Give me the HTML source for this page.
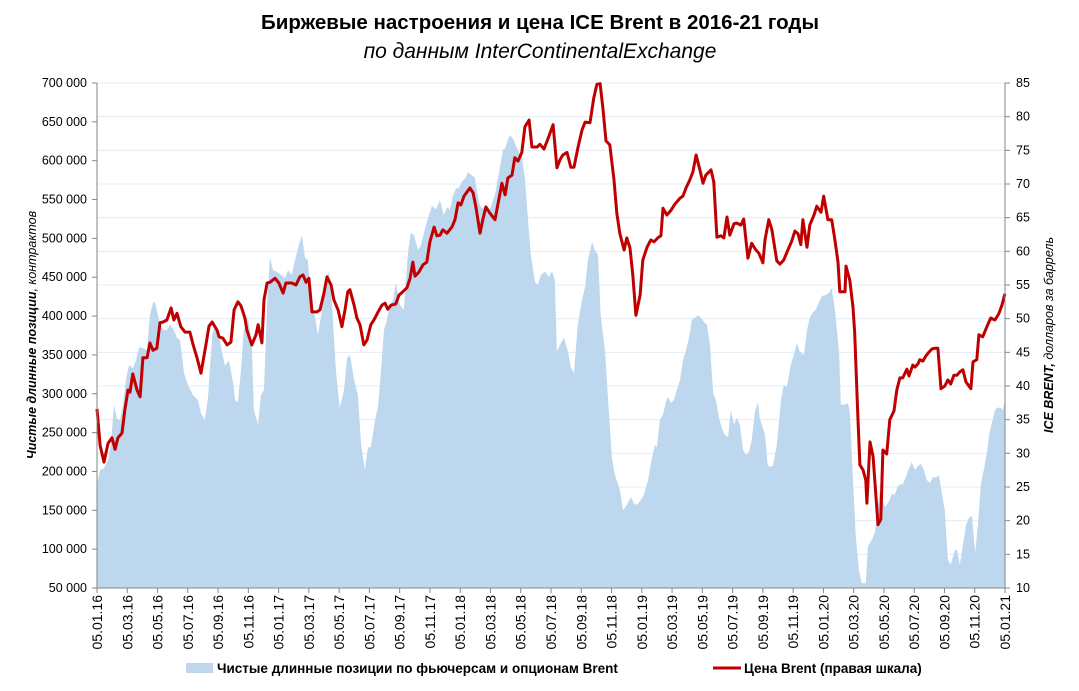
<!DOCTYPE html>
<html><head><meta charset="utf-8">
<style>
body{margin:0;background:#fff;}
svg{display:block;font-family:"Liberation Sans","DejaVu Sans",sans-serif;}
</style></head>
<body>
<svg id="chart" width="1079" height="691" viewBox="0 0 1079 691">
<text x="540" y="29" text-anchor="middle" font-size="20.5" font-weight="bold">Биржевые настроения и цена ICE Brent в 2016-21 годы</text>
<text x="540" y="58" text-anchor="middle" font-size="21" font-style="italic">по данным InterContinentalExchange</text>
<g id="grid"></g>
<g id="area"></g>
<g id="line"></g>
<g id="axes"></g>
<text transform="translate(36,335) rotate(-90)" text-anchor="middle" font-size="12.5" font-style="italic" font-weight="bold">Чистые длинные позиции<tspan font-weight="normal">, контрактов</tspan></text>
<text transform="translate(1053,335) rotate(-90)" text-anchor="middle" font-size="12.5" font-style="italic" font-weight="bold">ICE BRENT,<tspan font-weight="normal"> долларов за баррель</tspan></text>
<g>
<rect x="186" y="663" width="27" height="10" fill="#bdd7ee"/>
<text x="217" y="673" font-size="13.5" font-weight="bold">Чистые длинные позиции по фьючерсам и опционам Brent</text>
<line x1="713" y1="668" x2="741" y2="668" stroke="#c00000" stroke-width="3"/>
<text x="744" y="673" font-size="13.5" font-weight="bold">Цена Brent (правая шкала)</text>
</g>
</svg>
<script>
const xLabels=["05.01.16","05.03.16","05.05.16","05.07.16","05.09.16","05.11.16","05.01.17","05.03.17","05.05.17","05.07.17","05.09.17","05.11.17","05.01.18","05.03.18","05.05.18","05.07.18","05.09.18","05.11.18","05.01.19","05.03.19","05.05.19","05.07.19","05.09.19","05.11.19","05.01.20","05.03.20","05.05.20","05.07.20","05.09.20","05.11.20","05.01.21"];
const leftTicks=[50000,100000,150000,200000,250000,300000,350000,400000,450000,500000,550000,600000,650000,700000];
const rightTicks=[10,15,20,25,30,35,40,45,50,55,60,65,70,75,80,85];
const posWeeks=[0,0.9,2.0,3.2,4.0,4.9,5.7,6.6,7.5,8.3,9.2,10.3,11.2,12.1,12.9,14.4,15.2,16.1,16.7,18.1,19.0,20.1,21.0,22.1,23.0,23.9,25.0,26.2,27.6,29.0,29.9,31.0,31.9,33.1,33.9,34.8,35.9,36.8,37.9,39.1,39.7,40.5,41.4,42.2,43.4,44.5,45.1,46.3,47.1,48.0,48.9,49.7,50.6,51.7,52.9,54.0,54.9,56.0,56.9,57.8,58.9,59.8,60.6,61.5,62.7,63.5,64.7,65.5,66.7,67.5,68.7,69.8,71.0,71.9,72.7,73.9,75.0,75.9,77.0,77.9,78.7,79.9,80.8,81.6,82.5,83.3,84.2,85.1,85.9,87.1,88.2,89.4,90.2,91.1,92.3,93.1,94.3,95.4,96.3,97.4,98.6,99.7,100.6,101.5,102.3,103.2,104.0,104.9,106.1,106.6,107.8,108.6,109.8,110.6,111.8,112.9,114.4,115.8,116.7,117.3,118.1,118.7,119.6,120.4,121.3,122.1,123.0,123.9,124.7,125.9,126.7,127.6,128.8,129.9,130.8,131.6,132.2,133.1,134.2,135.4,136.2,137.1,138.2,139.4,140.3,141.1,142.3,143.1,144.0,144.8,146.0,146.9,148.0,148.9,150.3,151.2,152.3,153.5,154.3,155.2,156.3,157.2,158.4,159.5,160.4,160.9,161.8,162.7,163.5,164.1,165.0,165.8,166.7,167.6,168.4,169.3,170.2,171.0,171.9,172.7,173.6,174.5,175.3,176.2,177.1,177.9,178.8,179.6,180.5,181.4,182.2,183.1,183.9,184.8,185.7,186.5,187.4,188.2,189.1,190.0,190.5,192.0,192.8,193.4,194.3,195.4,196.6,197.4,198.3,199.4,200.3,201.2,202.0,203.2,204.1,204.9,205.8,206.6,207.5,208.4,209.5,210.4,211.2,212.1,212.7,213.3,213.8,215.0,215.8,216.4,217.3,218.1,219.0,219.8,221.0,221.6,222.7,223.6,224.2,225.0,226.5,227.6,228.5,229.3,230.2,231.1,231.6,232.5,233.4,234.2,235.1,236.0,236.8,237.7,238.5,239.4,240.3,241.1,242.0,242.6,243.7,244.6,245.4,246.6,247.2,248.0,248.9,249.8,250.6,251.5,252.4,253.2,254.1,254.9,255.8,256.4,257.2,258.1,258.7,259.8,260.4,261.0];
const posValues=[183,202,204,215,234,286,268,266,286,318,337,333,343,360,359,356,401,417,418,389,382,382,389,382,372,369,327,311,298,292,275,266,295,376,389,382,354,336,343,315,292,289,331,382,398,363,279,260,298,305,414,475,459,457,453,449,459,453,472,488,504,475,472,421,398,376,408,445,457,421,328,282,305,346,350,318,298,234,202,231,231,266,284,328,382,395,414,421,443,414,408,482,507,504,485,491,513,530,542,537,549,530,540,537,555,564,565,573,579,585,581,578,546,539,540,537,556,591,614,616,627,633,628,619,611,605,578,524,479,444,440,453,457,450,458,446,354,363,372,354,334,327,389,421,437,472,495,485,479,401,356,292,217,195,176,150,157,167,159,157,163,170,189,217,234,231,266,273,289,296,288,292,305,318,343,356,373,395,398,401,398,392,389,363,301,292,269,256,247,244,279,260,269,260,228,221,225,240,277,289,269,247,208,206,207,234,292,311,309,337,350,365,354,350,382,398,405,408,418,426,427,430,436,408,382,354,286,286,288,277,189,116,73,56,56,103,112,121,144,176,154,161,171,170,181,184,183,193,204,212,202,207,210,202,189,185,193,192,195,179,150,86,80,99,99,80,105,131,140,143,95,131,185,202,224,247,262,279,282,282,279,292];
const brentWeeks=[0,0.9,2.0,3.2,4.3,5.2,6.0,7.2,8.0,8.9,9.5,10.3,11.5,12.4,13.2,14.4,15.2,16.1,17.2,18.1,19.0,20.1,21.3,22.1,23.0,24.1,25.3,26.7,27.6,28.7,29.9,31.3,32.2,33.1,34.5,35.1,36.2,37.4,38.5,39.4,40.5,41.4,42.5,43.1,44.5,45.7,46.3,47.4,48.0,48.9,49.7,51.2,52.3,53.5,54.3,56.0,57.2,58.3,59.2,60.1,60.9,61.8,63.2,64.1,65.2,66.1,67.3,68.1,69.3,70.4,71.3,72.1,72.7,73.9,74.7,75.6,76.7,77.6,78.7,79.6,80.8,81.9,82.8,83.6,84.5,85.9,86.8,87.9,89.1,90.0,90.8,91.4,92.5,93.7,94.8,95.7,96.9,97.7,98.6,99.4,100.6,102.0,102.9,103.8,104.6,105.5,106.6,107.2,108.1,108.9,110.1,110.9,111.8,112.9,114.4,115.2,116.4,117.3,118.1,119.3,120.1,121.0,122.1,123.0,124.2,125.0,126.5,127.3,128.5,129.6,131.1,132.2,133.1,133.9,135.1,136.2,137.1,138.2,139.4,140.3,141.7,142.8,143.7,144.6,145.4,146.3,147.4,148.6,149.4,150.3,151.5,152.3,153.2,154.0,154.9,156.1,156.9,158.1,159.2,160.1,161.2,162.1,162.7,163.8,165.0,166.1,167.6,168.4,169.3,170.4,171.3,172.2,173.3,174.2,175.0,176.5,177.3,178.2,179.3,180.2,181.1,181.9,183.1,183.9,185.1,185.9,187.1,188.2,189.4,190.3,191.4,192.0,193.1,194.0,195.4,196.3,197.4,198.6,199.7,200.6,201.5,202.3,202.9,204.1,204.9,206.1,206.9,208.1,208.9,210.1,211.2,212.1,213.0,213.5,215.0,215.3,216.4,217.3,217.8,218.7,219.3,220.2,221.0,221.3,222.2,223.1,224.5,225.3,225.9,227.0,227.9,229.1,229.9,230.8,231.6,232.8,233.4,234.5,235.1,236.0,236.5,237.4,238.3,239.1,240.0,240.8,241.7,242.6,243.7,244.6,245.4,246.3,247.2,248.0,248.9,249.8,251.2,251.8,252.9,253.5,254.6,255.8,256.9,258.1,259.2,260.1,261.0];
const brentValues=[36.6,31.2,28.7,31.5,32.3,30.6,32.3,33.0,36.4,39.4,39.1,41.8,39.4,38.4,44.2,44.2,46.4,45.3,45.6,49.4,49.5,49.8,51.6,49.8,50.8,48.8,48.0,48.0,46.2,44.3,41.9,46.1,48.9,49.5,48.3,47.3,47.1,46.1,46.5,51.3,52.5,51.9,50.1,48.3,46.1,47.6,49.1,46.4,52.8,55.3,55.4,56.0,55.3,53.8,55.3,55.3,55.0,56.2,56.5,55.4,56.0,51.0,51.0,51.3,53.7,56.2,55.0,52.8,51.3,48.8,51.3,54.0,54.3,52.0,50.1,49.1,46.1,46.8,49.1,49.8,51.0,52.0,52.3,51.4,52.0,52.2,53.5,54.0,54.6,56.0,58.4,56.3,56.9,58.0,58.4,61.4,63.6,62.3,62.4,63.2,62.7,63.6,64.7,67.2,66.9,68.2,69.0,69.4,68.7,66.6,62.7,64.7,66.6,65.7,64.7,66.9,70.1,68.4,70.9,71.3,73.9,73.4,74.7,78.5,79.5,75.5,75.5,75.9,75.2,76.7,78.8,72.4,73.6,74.3,74.7,72.5,72.5,75.3,78.0,79.2,79.1,82.8,84.8,84.9,81.4,76.4,75.8,70.6,65.7,62.6,60.2,62.0,60.5,56.5,50.5,53.5,58.7,60.6,61.7,61.4,62.0,62.3,66.4,65.4,66.1,67.0,67.9,68.2,69.4,70.6,71.8,74.3,72.1,70.1,71.3,72.1,70.3,62.1,62.3,62.0,65.1,62.4,64.1,64.2,63.9,64.8,59.0,61.2,60.2,59.7,58.3,61.7,64.7,63.2,58.6,58.1,58.7,60.2,61.5,63.0,62.6,61.0,64.7,60.6,63.9,65.4,66.7,65.8,68.2,64.7,64.7,61.7,58.4,54.0,54.0,57.8,55.7,51.7,47.9,35.7,28.3,27.5,26.0,22.6,31.7,29.5,19.4,20.2,30.5,29.9,35.0,36.3,39.4,41.2,41.2,42.5,41.5,43.1,42.8,43.3,43.9,43.7,44.5,45.0,45.5,45.6,45.6,39.6,40.0,40.9,40.3,41.6,41.6,42.1,42.4,40.6,39.6,43.6,43.9,47.6,47.3,48.8,50.1,49.8,50.7,52.0,53.7];

const NS="http://www.w3.org/2000/svg";
const X0=97,X1=1005,Y0=83,Y1=588,WEEKS=261;
function xw(w){return X0+w/WEEKS*(X1-X0);}
function yl(v){return Y1-(v-50000)/650000*(Y1-Y0);}
function yr(p){return Y1-(p-10)/75*(Y1-Y0);}
function mk(tag,attrs,parent){const e=document.createElementNS(NS,tag);for(const k in attrs)e.setAttribute(k,attrs[k]);parent.appendChild(e);return e;}
const grid=document.getElementById('grid'),axes=document.getElementById('axes');
rightTicks.forEach((t,i)=>{if(t===10)return;
 const g=mk('line',{x1:X0,x2:X1,y1:yr(t),y2:yr(t),stroke:'#e3ecf6','stroke-width':1},grid);
 
 });
let d='M'+xw(posWeeks[0])+','+Y1;
posWeeks.forEach((w,i)=>{d+=' L'+xw(w).toFixed(1)+','+yl(posValues[i]*1000).toFixed(1);});
d+=' L'+xw(posWeeks[posWeeks.length-1])+','+Y1+' Z';
const ap=mk('path',{d:d,fill:'#bdd7ee'},document.getElementById('area'));


let ld='';
brentWeeks.forEach((w,i)=>{ld+=(i?' L':'M')+xw(w).toFixed(1)+','+yr(brentValues[i]).toFixed(1);});
const lp=mk('path',{d:ld,fill:'none',stroke:'#c00000','stroke-width':3,'stroke-linejoin':'round'},document.getElementById('line'));


[['left-axis-line',X0,Y0,X0,Y1],['right-axis-line',X1,Y0,X1,Y1],['x-axis-line',X0,Y1,X1,Y1]].forEach(a=>{
 const l=mk('line',{x1:a[1],y1:a[2],x2:a[3],y2:a[4],stroke:'#868686','stroke-width':1},axes);
 
 });
leftTicks.forEach(t=>{const y=yl(t);
 mk('line',{x1:X0-5,x2:X0,y1:y,y2:y,stroke:'#868686'},axes);
 const tx=mk('text',{x:87,y:y+4,'text-anchor':'end','font-size':12.5},axes);
 tx.textContent=t.toLocaleString('ru-RU').replace(/\u00a0|,/g,' ');
 
 });
rightTicks.forEach(t=>{const y=yr(t);
 mk('line',{x1:X1,x2:X1+5,y1:y,y2:y,stroke:'#868686'},axes);
 const tx=mk('text',{x:1016,y:y+4,'font-size':12.5},axes);
 tx.textContent=t;
 
 });
xLabels.forEach((lab,i)=>{const x=X0+i*(X1-X0)/(xLabels.length-1);
 mk('line',{x1:x,x2:x,y1:Y1,y2:Y1+5,stroke:'#868686'},axes);
 const tx=mk('text',{transform:'translate('+(x+5)+',595) rotate(-90)','text-anchor':'end','font-size':14},axes);
 tx.textContent=lab;
 
 });
</script>
</body></html>
